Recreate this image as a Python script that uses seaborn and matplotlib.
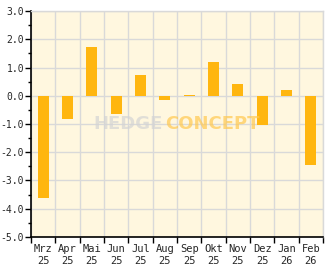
import matplotlib
matplotlib.use("Agg")
import matplotlib.pyplot as plt
import seaborn as sns
import pandas as pd
import numpy as np

months = ["Mrz", "Apr", "Mai", "Jun", "Jul", "Aug", "Sep", "Okt", "Nov", "Dez", "Jan", "Feb"]
years = ["25", "25", "25", "25", "25", "25", "25", "25", "25", "25", "26", "26"]
values = [-3.62, -0.83, 1.71, -0.65, 0.72, -0.15, 0.02, 1.21, 0.40, -1.02, 0.19, -2.45]
y_ticks = [-5, -4, -3, -2, -1, 0, 1, 2, 3]

labels = [f"{m}\n{y}" for m, y in zip(months, years)]
df = pd.DataFrame({"label": labels, "value": values})

sns.set_style("white")
plt.rcParams["font.family"] = ["DejaVu Sans Mono"]
plt.rcParams["axes.unicode_minus"] = False

fig = plt.figure(figsize=(3.32, 2.69), dpi=100)
fig.patch.set_facecolor("white")
ax = fig.add_axes([0.0934, 0.119, 0.8796, 0.840])
ax.set_facecolor("#FFF7DF")

sns.barplot(data=df, x="label", y="value", color="#FFB60F", saturation=1,
            width=0.45, ax=ax, zorder=3)
for p in ax.patches:
    p.set_edgecolor("none")

ax.set_xlim(-0.5, len(labels) - 0.5)
ax.set_ylim(-5, 3)
ax.set_yticks(y_ticks)
ax.set_yticklabels([f"{v:.1f}" for v in y_ticks], fontsize=7)
ax.set_yticks(np.arange(-4.5, 3, 1.0), minor=True)
ax.set_xticks(np.arange(-0.5, len(labels), 1.0), minor=True)
ax.tick_params(axis="x", which="major", length=0, labelsize=7.5, pad=5)
ax.tick_params(axis="x", which="minor", length=4, width=1, color="black", direction="out")
ax.tick_params(axis="y", which="major", length=4, width=1, color="black", direction="out", pad=1)
ax.tick_params(axis="y", which="minor", length=2.5, width=1, color="black", direction="out")
ax.tick_params(axis="x", which="minor", bottom=True)
ax.tick_params(axis="y", which="both", left=True)

ax.grid(False)
for y in y_ticks:
    ax.axhline(y, color="#D9D9D9", lw=1, zorder=1)
ax.xaxis.grid(True, which="minor", color="#D9D9D9", lw=1, zorder=1)
ax.set_axisbelow(True)

ax.set_xlabel("")
ax.set_ylabel("")
for s in ["top", "right"]:
    ax.spines[s].set_color("#D9D9D9")
    ax.spines[s].set_linewidth(1)
for s in ["left", "bottom"]:
    ax.spines[s].set_color("black")
    ax.spines[s].set_linewidth(1.2)

fig.text(0.49, 0.539, "HEDGE", fontsize=13, fontweight="bold", color="#D4D4D4",
         ha="right", va="center", alpha=0.7, family="DejaVu Sans", zorder=10)
fig.text(0.497, 0.539, "CONCEPT", fontsize=13, fontweight="bold", color="#FFC850",
         ha="left", va="center", alpha=0.7, family="DejaVu Sans", zorder=10)

fig.savefig("out.png", dpi=100)
